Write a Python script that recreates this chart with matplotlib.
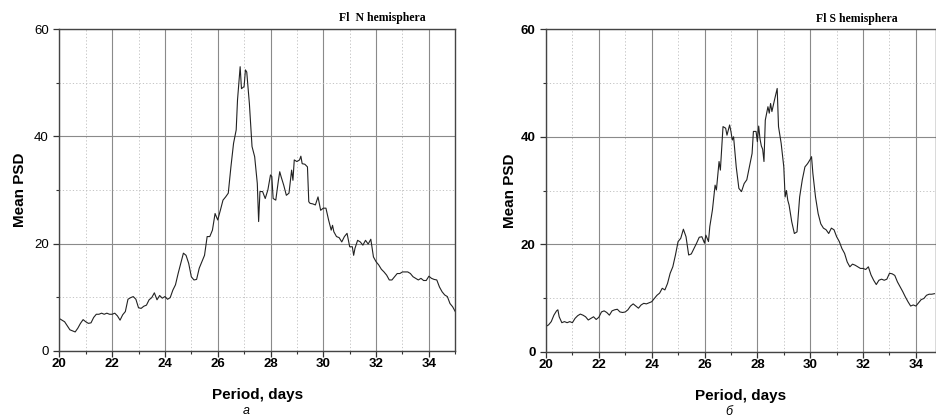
import matplotlib
matplotlib.use("Agg")
import matplotlib.pyplot as plt
from matplotlib.ticker import MultipleLocator

# N hemisphere (panel a)
period_n = [20.0, 20.2, 20.4, 20.5, 20.6, 20.7, 20.8, 20.9, 21.0, 21.1, 21.2, 21.3, 21.4, 21.5,
            21.6, 21.7, 21.8, 21.9, 22.0, 22.1, 22.2, 22.3, 22.4, 22.5, 22.6, 22.7, 22.8, 22.9,
            23.0, 23.1, 23.2, 23.3, 23.4, 23.5, 23.6, 23.7, 23.8, 23.9, 24.0, 24.1, 24.2, 24.3,
            24.4, 24.5, 24.6, 24.7, 24.8, 24.9, 25.0, 25.1, 25.2, 25.3, 25.4, 25.5, 25.6, 25.7,
            25.8, 25.9, 26.0, 26.1, 26.2, 26.3, 26.4, 26.5, 26.6, 26.7, 26.75, 26.85, 26.9, 27.0,
            27.05, 27.1, 27.2, 27.3, 27.4, 27.5, 27.55, 27.6, 27.7, 27.8, 27.9, 28.0, 28.05, 28.1,
            28.2, 28.3, 28.35, 28.4, 28.5, 28.6, 28.7, 28.8, 28.85, 28.9, 29.0, 29.1, 29.15, 29.2,
            29.3, 29.4, 29.45, 29.5, 29.6, 29.7, 29.8, 29.9, 30.0, 30.1, 30.2, 30.3, 30.35, 30.4,
            30.5, 30.6, 30.7, 30.8, 30.9, 31.0, 31.1, 31.15, 31.2, 31.3, 31.4, 31.5, 31.6, 31.7,
            31.8, 31.9, 32.0, 32.1, 32.2, 32.3, 32.4, 32.5, 32.6, 32.7, 32.8, 32.9, 33.0, 33.1,
            33.2, 33.3, 33.4, 33.5, 33.6, 33.7, 33.8, 33.9, 34.0, 34.1, 34.2, 34.3, 34.4, 34.5,
            34.6, 34.7, 34.8, 34.9, 35.0]
psd_n = [6.0, 5.4, 3.9, 3.7, 3.5, 4.2, 5.1, 5.8, 5.4, 5.1, 5.2, 6.2, 6.8, 6.8,
         7.0, 6.8, 7.0, 6.8, 6.8, 7.0, 6.5, 5.7, 6.7, 7.3, 9.6, 9.9, 10.1, 9.6,
         8.0, 7.9, 8.3, 8.5, 9.5, 9.9, 10.8, 9.5, 10.3, 9.8, 10.1, 9.6, 9.9, 11.3,
         12.3, 14.4, 16.3, 18.2, 17.8, 16.3, 13.8, 13.2, 13.3, 15.4, 16.6, 17.8, 21.3, 21.3,
         22.5, 25.6, 24.4, 26.2, 28.1, 28.7, 29.4, 34.3, 38.7, 41.2, 46.8, 53.0, 48.9, 49.3,
         52.4, 52.0, 46.1, 38.1, 36.2, 31.2, 24.1, 29.7, 29.7, 28.4, 30.0, 32.8, 32.5, 28.4,
         28.1, 31.8, 33.4, 32.5, 30.9, 29.0, 29.4, 33.7, 31.8, 35.6, 35.3, 35.6, 36.3, 34.9,
         34.8, 34.3, 27.8, 27.5, 27.4, 27.2, 28.7, 26.2, 26.6, 26.6, 24.4, 22.5, 23.4, 22.2,
         21.3, 21.1, 20.3, 21.3, 21.9, 19.4, 19.4, 17.8, 19.1, 20.6, 20.3, 19.7, 20.6, 19.9,
         20.8, 17.5, 16.6, 16.0, 15.2, 14.7, 14.1, 13.2, 13.2, 13.8, 14.4, 14.4, 14.7, 14.7,
         14.7, 14.4, 13.8, 13.5, 13.2, 13.5, 13.1, 13.1, 13.9, 13.5, 13.3, 13.2, 11.9, 11.0,
         10.4, 10.1, 8.8, 8.2, 7.3]

# S hemisphere (panel b)
period_s = [20.0, 20.1, 20.2, 20.3, 20.4, 20.45, 20.5, 20.6, 20.7, 20.8, 20.9, 21.0, 21.1, 21.2,
            21.3, 21.4, 21.5, 21.6, 21.7, 21.8, 21.9, 22.0, 22.1, 22.2, 22.3, 22.4, 22.5, 22.6,
            22.7, 22.8, 22.9, 23.0, 23.1, 23.2, 23.3, 23.4, 23.5, 23.6, 23.7, 23.8, 23.9, 24.0,
            24.1, 24.2, 24.3, 24.4, 24.5, 24.6, 24.7, 24.8, 24.9, 25.0, 25.1, 25.2, 25.3, 25.4,
            25.5, 25.6, 25.7, 25.8, 25.9, 26.0, 26.05, 26.15, 26.2, 26.3, 26.4, 26.45, 26.55, 26.6,
            26.7, 26.8, 26.85, 26.95, 27.0, 27.05, 27.1, 27.2, 27.3, 27.4, 27.5, 27.6, 27.7, 27.8,
            27.85, 27.95, 28.0, 28.05, 28.1, 28.15, 28.2, 28.25, 28.3, 28.4, 28.45, 28.5, 28.55, 28.65,
            28.75, 28.8, 28.9, 29.0, 29.05, 29.1, 29.15, 29.2, 29.3, 29.4, 29.5, 29.6, 29.7, 29.8,
            29.9, 30.0, 30.05, 30.1, 30.2, 30.3, 30.4, 30.5, 30.6, 30.7, 30.8, 30.9, 31.0, 31.1,
            31.2, 31.3, 31.4, 31.5, 31.6, 31.7, 31.8, 31.9, 32.0, 32.1, 32.2, 32.3, 32.4, 32.5,
            32.6, 32.7, 32.8, 32.9, 33.0, 33.1, 33.2, 33.3, 33.4, 33.5, 33.6, 33.7, 33.8, 33.9,
            34.0, 34.1, 34.2, 34.3, 34.4, 34.5, 34.6, 34.7]
psd_s = [4.7, 5.0, 5.6, 6.8, 7.6, 7.8, 6.5, 5.4, 5.6, 5.4, 5.6, 5.4, 6.2, 6.7,
         7.0, 6.8, 6.5, 5.9, 6.2, 6.5, 6.0, 6.4, 7.4, 7.6, 7.3, 6.8, 7.6, 7.8,
         7.9, 7.4, 7.3, 7.4, 7.8, 8.5, 8.9, 8.5, 8.1, 8.7, 9.0, 8.9, 9.1, 9.3,
         9.9, 10.5, 10.9, 11.8, 11.5, 12.7, 14.6, 15.8, 18.0, 20.5, 21.1, 22.8, 21.4, 18.0,
         18.2, 19.2, 20.2, 21.3, 21.4, 20.2, 21.7, 20.5, 23.3, 26.4, 31.0, 30.1, 35.4, 33.8,
         41.9, 41.6, 40.3, 42.2, 41.0, 39.4, 40.0, 34.4, 30.4, 29.8, 31.3, 32.0, 34.4, 36.9,
         41.0, 41.0, 39.1, 42.0, 39.6, 38.3, 37.7, 35.4, 43.1, 45.6, 44.4, 46.2, 44.7, 46.9,
         49.0, 41.9, 38.8, 34.4, 28.8, 30.0, 28.2, 27.3, 24.2, 22.0, 22.3, 28.8, 32.0, 34.4,
         35.0, 35.8, 36.3, 33.2, 28.8, 25.7, 23.8, 23.0, 22.7, 22.0, 23.0, 22.7, 21.4, 20.5,
         19.2, 18.3, 16.7, 15.8, 16.3, 16.1, 15.8, 15.5, 15.5, 15.3, 15.8, 14.3, 13.3, 12.5,
         13.3, 13.5, 13.3, 13.5, 14.6, 14.5, 14.2, 13.0, 12.1, 11.2, 10.2, 9.3, 8.5, 8.7,
         8.5, 9.1, 9.7, 9.9, 10.5, 10.7, 10.7, 10.8]

panels = [
    (period_n, psd_n, [0.0634, 0.159, 0.4230, 0.771], 35.0, False, 5),
    (period_s, psd_s, [0.5833, 0.1566, 0.4167, 0.773], 34.76, True, 3),
]

fig = plt.figure(figsize=(9.36, 4.17), dpi=100)

for x, y, rect, xmax, bold_y, ypad in panels:
    ax = fig.add_axes(rect)
    ax.plot(x, y, color="#222222", lw=0.8)
    ax.set_xlim(20, xmax)
    ax.set_ylim(0, 60)
    ax.xaxis.set_major_locator(MultipleLocator(2))
    ax.xaxis.set_minor_locator(MultipleLocator(1))
    ax.yaxis.set_major_locator(MultipleLocator(20))
    ax.yaxis.set_minor_locator(MultipleLocator(10))
    ax.grid(which="major", color="#8a8a8a", lw=0.8, ls="-")
    ax.grid(which="minor", color="#bbbbbb", lw=0.6, ls=(0, (1.5, 2.5)))
    ax.tick_params(which="major", direction="out", length=4, width=0.9, colors="#333333",
                   labelsize=9.5, labelcolor="black")
    ax.tick_params(axis="x", which="major", pad=1.5)
    ax.tick_params(which="minor", direction="out", length=2.5, width=0.8, colors="#333333")
    for lab in ax.get_xticklabels():
        lab.set_fontweight("bold")
        lab.set_family("Liberation Sans")
    for lab in ax.get_yticklabels():
        lab.set_fontweight("bold" if bold_y else "normal")
        lab.set_family("Liberation Sans")
    for sp in ax.spines.values():
        sp.set_color("#444444")
        sp.set_linewidth(1.0)
    ax.set_xlabel("Period, days", fontsize=11, fontweight="bold", family="Liberation Sans", labelpad=13)
    ax.set_ylabel("Mean PSD", fontsize=11, fontweight="bold", family="Liberation Sans", labelpad=ypad)

# panel titles and captions
fig.text(426 / 936, 1 - 18 / 417, "Fl  N hemisphera", ha="right", va="center",
         fontsize=8.5, fontweight="bold", family="Liberation Serif")
fig.text(898 / 936, 1 - 19 / 417, "Fl S hemisphera", ha="right", va="center",
         fontsize=8.5, fontweight="bold", family="Liberation Serif")
fig.text(246 / 936, 6 / 417, "a", ha="center", va="center", fontsize=9,
         style="italic", family="Liberation Sans")
fig.text(729 / 936, 5 / 417, "б", ha="center", va="center", fontsize=9,
         style="italic", family="Liberation Sans")

fig.savefig("out.png", dpi=100)
